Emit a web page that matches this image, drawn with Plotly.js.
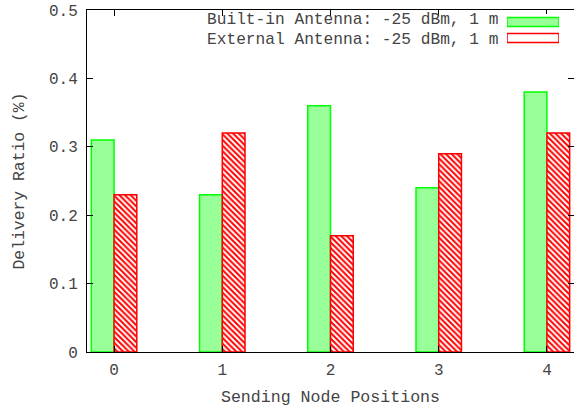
<!DOCTYPE html>
<html>
<head>
<meta charset="utf-8">
<script src="https://cdn.plot.ly/plotly-3.0.1.min.js"></script>
<style>html,body{margin:0;padding:0;background:#fff}#chart{width:574px;height:407px}</style>
</head>
<body>
<div id="chart"></div>
<script>
// ---- data ----
const positions = [0, 1, 2, 3, 4];
const tickLabels = ['0', '1', '2', '3', '4'];
const builtIn = [0.31, 0.23, 0.36, 0.24, 0.38];
const external = [0.23, 0.32, 0.17, 0.29, 0.32];
const seriesNames = ['Built-in Antenna: -25 dBm, 1 m', 'External Antenna: -25 dBm, 1 m'];
const yTicks = [0, 0.1, 0.2, 0.3, 0.4, 0.5];
const yTickLabels = ['0', '0.1', '0.2', '0.3', '0.4', '0.5'];
const xTitle = 'Sending Node Positions';
const yTitle = 'Delivery Ratio (%)';

// ---- styles ----
const FONT = 'Liberation Mono, Courier New, monospace';
const TXT = '#444';
const greenFill = '#99ff99', greenLine = '#00ff00';
const redLine = '#ff0000';
const hatch = {shape: '\\', fgcolor: redLine, bgcolor: '#ffffff', size: 4, solidity: 0.5};

const traces = [
  {type: 'bar', x: positions, y: builtIn, name: seriesNames[0], showlegend: false,
   marker: {color: greenFill, line: {color: greenLine, width: 1.5}}, hoverinfo: 'skip'},
  {type: 'bar', x: positions, y: external, name: seriesNames[1], showlegend: false,
   marker: {color: '#ffffff', pattern: hatch, line: {color: redLine, width: 1.5}}, hoverinfo: 'skip'},
  // legend key swatches (one bar per series on a small key axis)
  {type: 'bar', orientation: 'h', x: [1, 1], y: [0, 1], width: 0.56, xaxis: 'x2', yaxis: 'y2',
   showlegend: false, hoverinfo: 'skip',
   marker: {color: [greenFill, '#ffffff'],
            line: {color: [greenLine, redLine], width: 1.5},
            pattern: {shape: ['', '\\'], fgcolor: ['#ffffff', redLine], bgcolor: [greenFill, '#ffffff'],
                      size: 4, solidity: 0.5}}}
];

const W = 574, L = 87, R = 0, T = 10, B = 55;
const pw = W - L - R, ph = 407 - T - B;
const px2x = p => (p - L) / pw;
const py2y = p => 1 - (p - T) / ph;
const legendRowsPx = [20.5, 39.5];

const layout = {
  width: 574, height: 407,
  margin: {l: L, r: R, t: T, b: B, pad: 0},
  paper_bgcolor: '#fff', plot_bgcolor: '#fff',
  font: {family: FONT, size: 16, color: TXT},
  barmode: 'group', bargap: 0.58, bargroupgap: 0,
  showlegend: false,
  xaxis: {
    range: [-0.25, 4.25], tickvals: positions, ticktext: tickLabels,
    showgrid: false, zeroline: false, showline: true, linecolor: '#000', linewidth: 1,
    mirror: 'ticks', ticks: 'inside', ticklen: 6, tickcolor: '#000',
    ticklabelstandoff: 3,
    tickfont: {family: FONT, size: 16, color: TXT},
    title: {text: xTitle, standoff: 12, font: {family: FONT, size: 16.6, color: TXT}},
    fixedrange: true
  },
  yaxis: {
    range: [0, 0.5], tickvals: yTicks, ticktext: yTickLabels,
    showgrid: false, zeroline: false, showline: true, linecolor: '#000', linewidth: 1,
    mirror: 'ticks', ticks: 'inside', ticklen: 6, tickcolor: '#000',
    ticklabelstandoff: 5,
    tickfont: {family: FONT, size: 16, color: TXT},
    title: {text: yTitle, standoff: 20, font: {family: FONT, size: 16.4, color: TXT}},
    fixedrange: true
  },
  xaxis2: {domain: [px2x(507), px2x(559)], range: [0, 1], anchor: 'y2', visible: false, fixedrange: true},
  yaxis2: {domain: [py2y(46), py2y(14)], range: [1.5, -0.5], anchor: 'x2', visible: false, fixedrange: true},
  annotations: seriesNames.map((t, i) => ({
    text: t, xref: 'paper', x: px2x(499), xanchor: 'right',
    yref: 'paper', y: py2y(legendRowsPx[i]), yanchor: 'middle', showarrow: false, borderpad: 0,
    font: {family: FONT, size: 16.2, color: TXT}
  }))
};

Plotly.newPlot('chart', traces, layout, {displayModeBar: false, staticPlot: true});
</script>
</body>
</html>
